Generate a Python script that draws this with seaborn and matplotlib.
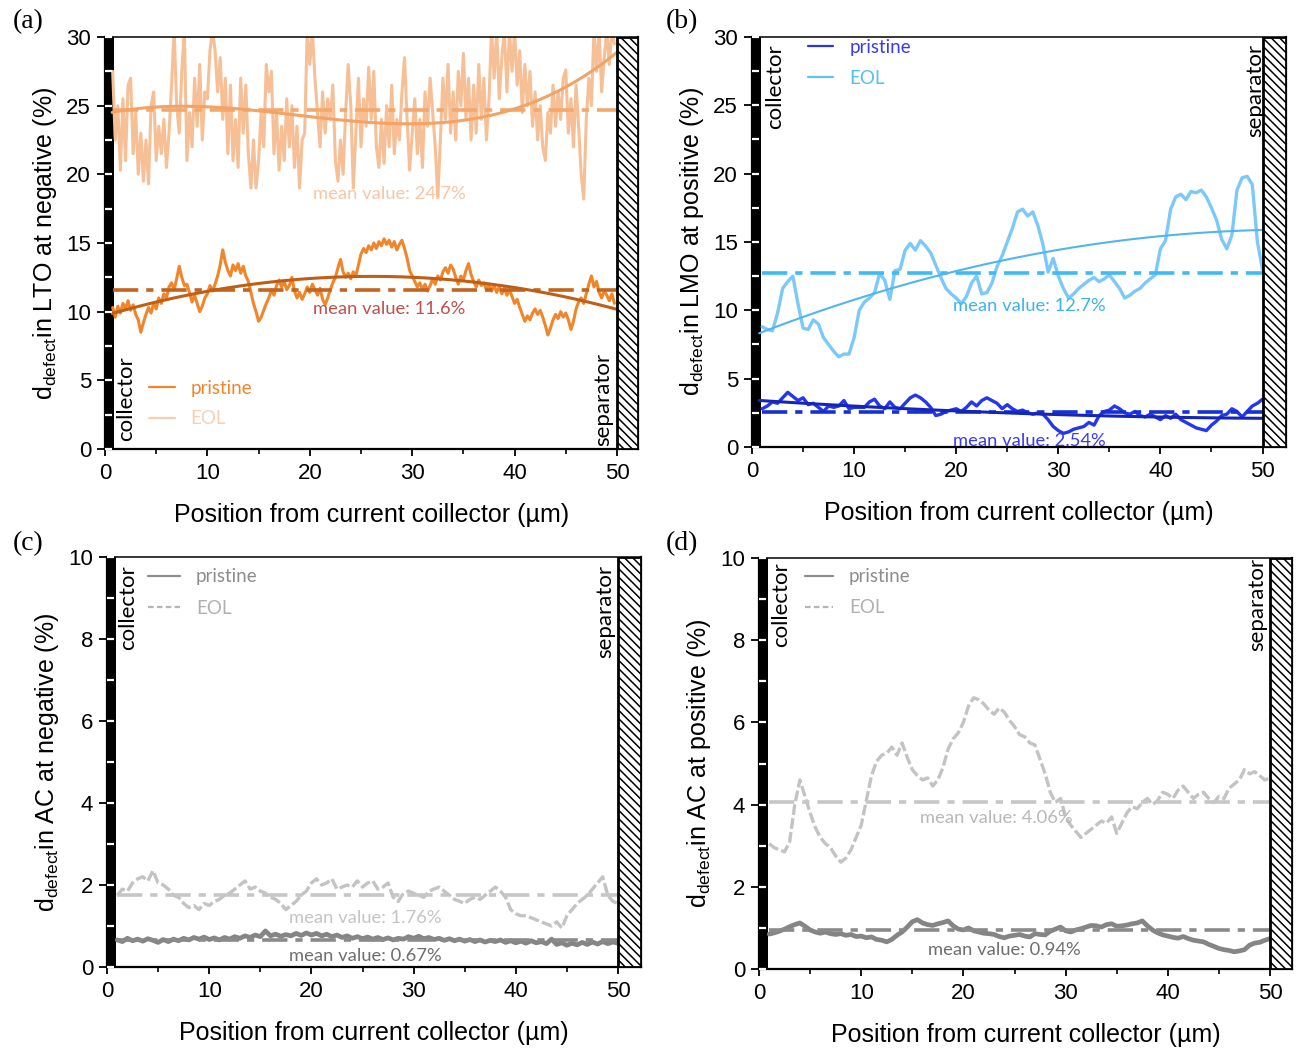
import numpy as np
import matplotlib
matplotlib.use("Agg")
import matplotlib.pyplot as plt
import seaborn as sns
from matplotlib.patches import Rectangle
from matplotlib.lines import Line2D
from matplotlib.ticker import MultipleLocator

sns.set_theme(style="ticks")
plt.rcParams["font.family"] = ["Liberation Sans", "DejaVu Sans"]
plt.rcParams["mathtext.fontset"] = "custom"
plt.rcParams["mathtext.rm"] = "Liberation Sans"
plt.rcParams["mathtext.it"] = "Liberation Sans:italic"
plt.rcParams["mathtext.bf"] = "Liberation Sans:bold"
plt.rcParams["hatch.linewidth"] = 1.1

# ---------------------------------------------------------------- data
# (a) LTO, negative electrode: profiles sampled every 0.25 um from 0.75 um
LTO_START, LTO_STEP = 0.75, 0.25
lto_eol = [
    27.5, 22.5, 25.0, 20.3, 25.5, 21.0, 26.5, 27.0, 21.5, 24.5, 20.0, 23.0,
    19.5, 22.5, 19.3, 25.0, 26.0, 21.0, 23.5, 21.5, 24.0, 20.5, 23.0, 26.5,
    30.5, 25.0, 23.0, 27.5, 30.5, 21.0, 24.5, 22.0, 27.0, 23.5, 28.0, 22.5,
    26.0, 25.5, 29.0, 30.5, 29.0, 26.0, 28.5, 24.0, 27.0, 21.5, 26.5, 21.0,
    24.0, 20.5, 27.0, 23.0, 26.5, 21.5, 19.0, 22.5, 19.0, 21.0, 24.5, 22.0,
    28.0, 26.0, 27.5, 21.5, 24.5, 20.3, 23.5, 21.0, 25.5, 22.0, 25.0, 20.5,
    23.5, 19.0, 22.5, 23.0, 30.5, 28.0, 30.5, 27.0, 24.5, 22.0, 26.0, 23.0,
    25.5, 24.0, 26.5, 21.0, 19.5, 22.5, 20.0, 24.5, 28.0, 25.0, 19.0, 23.0,
    27.0, 22.0, 25.5, 23.5, 27.8, 24.0, 27.5, 22.0, 20.5, 24.0, 20.8, 25.0,
    22.0, 26.5, 21.5, 24.0, 22.5, 26.0, 28.5, 24.0, 20.3, 23.0, 25.5, 21.5,
    24.0, 20.5, 26.0, 23.5, 27.0, 24.5, 22.0, 18.3, 22.5, 27.0, 24.0, 28.0,
    23.0, 26.0, 22.5, 27.5, 25.0, 28.8, 24.0, 27.0, 22.5, 26.5, 23.0, 28.0,
    24.0, 27.0, 22.5, 25.5, 30.5, 27.0, 30.5, 25.5, 28.5, 30.5, 26.0, 30.5,
    27.5, 30.5, 26.5, 29.0, 24.5, 28.0, 25.0, 27.5, 23.5, 26.0, 22.5, 25.0,
    22.0, 21.0, 24.5, 23.0, 26.5, 23.5, 26.0, 24.0, 27.0, 27.6, 23.0, 25.5,
    22.0, 26.5, 23.5, 20.0, 18.2, 24.0, 27.0, 25.0, 30.5, 27.5, 30.5, 26.0,
    28.5, 30.5, 28.0, 30.5, 29.5,
]
lto_pristine = [
    10.3, 9.6, 10.4, 9.9, 10.6, 10.2, 10.8, 10.1, 10.5, 9.8, 9.4, 8.5,
    9.2, 9.8, 10.3, 9.9, 10.6, 10.2, 11.0, 10.6, 11.3, 11.0, 11.8, 12.1,
    11.6, 12.4, 13.3, 12.5, 11.9, 12.0, 11.4, 10.7, 11.2, 10.6, 10.0, 10.4,
    11.0, 11.3, 11.9, 11.5, 12.0, 12.6, 13.4, 14.5, 13.6, 13.0, 12.6, 13.4,
    13.0, 13.5, 12.8, 13.3, 12.6, 12.2, 11.4, 10.6, 10.0, 9.3, 9.6, 10.1,
    10.6, 11.0, 11.6, 11.2, 11.9, 12.3, 11.8, 12.2, 11.6, 11.9, 12.5, 11.5,
    11.0, 11.4, 10.9, 11.3, 11.8, 11.4, 12.0, 11.6, 11.2, 11.7, 10.9, 10.5,
    11.0, 11.6, 12.1, 12.5, 13.2, 13.8, 12.9, 12.5, 12.8, 12.4, 12.9, 12.6,
    13.4, 14.2, 14.6, 14.3, 14.8, 14.5, 15.0, 14.6, 15.1, 14.8, 15.3, 14.9,
    15.2, 14.7, 15.1, 14.5, 14.9, 15.2, 14.6, 13.9, 13.0, 12.6, 12.2, 11.8,
    12.1, 11.6, 12.0, 11.5, 11.9, 12.4, 12.0, 12.6, 12.3, 12.9, 13.2, 12.8,
    13.4, 13.1, 12.5, 12.0, 12.6, 12.3, 13.0, 13.5, 12.7, 12.2, 11.8, 12.3,
    11.9, 12.1, 11.6, 12.0, 11.5, 11.9, 11.4, 11.8, 11.3, 11.7, 11.2, 11.6,
    11.1, 10.6, 10.9, 10.3, 9.8, 9.3, 9.7, 9.4, 9.9, 10.2, 9.8, 10.1,
    9.6, 9.0, 8.3, 8.8, 9.4, 9.8, 9.5, 10.0, 9.6, 9.9, 9.4, 8.7,
    9.3, 10.2, 10.7, 11.0, 10.6, 11.3, 12.0, 12.6, 11.8, 12.2, 11.4, 11.0,
    11.5, 11.2, 10.8, 11.3, 10.6,
]
lto_fit_eol_x = [0.7, 6, 12.5, 20, 25, 30, 35, 40, 45, 50]
lto_fit_eol_y = [24.5, 24.9, 24.9, 24.2, 23.8, 23.6, 23.9, 24.8, 26.5, 28.8]
lto_fit_pristine_x = [0.7, 5, 10, 15, 20, 25, 30, 35, 40, 45, 50]
lto_fit_pristine_y = [9.5, 10.8, 11.7, 12.3, 12.6, 12.6, 12.3, 12.0, 11.5, 11.0, 10.5]
lto_mean_eol, lto_mean_pristine = 24.7, 11.6

# (b), (c), (d): profiles sampled every 0.5 um from 1.0 um
GRID_START, GRID_STEP = 1.0, 0.5
lmo_eol = [
    8.8, 8.6, 8.5, 9.8, 11.6, 12.1, 12.5, 10.5, 8.7, 8.6, 9.3, 9.0,
    8.0, 7.5, 7.0, 6.6, 6.8, 6.8, 8.0, 10.0, 10.6, 10.9, 11.3, 12.7,
    12.2, 10.8, 12.9, 13.0, 14.4, 14.9, 14.4, 15.1, 14.7, 14.2, 13.3, 12.4,
    11.6, 11.2, 10.9, 10.5, 11.0, 12.0, 12.5, 11.2, 11.3, 12.0, 13.2, 14.0,
    15.0, 16.0, 17.2, 17.4, 16.9, 17.2, 16.2, 14.8, 12.8, 13.8, 12.5, 11.6,
    10.9, 11.2, 11.6, 11.9, 12.2, 12.4, 12.1, 12.3, 12.6, 12.1, 11.6, 10.9,
    11.1, 11.4, 11.6, 12.0, 12.3, 12.6, 14.5, 15.1, 17.4, 18.3, 18.5, 18.1,
    18.7, 18.6, 18.8, 18.3, 17.5, 16.6, 15.2, 14.5, 15.5, 18.8, 19.7, 19.8,
    19.2, 15.0, 13.0,
]
lmo_pristine = [
    2.8, 3.0, 3.3, 3.2, 3.6, 4.0, 3.7, 3.4, 3.6, 3.1, 3.2, 2.9,
    2.6, 3.0, 2.9, 3.0, 3.4, 2.8, 2.9, 2.9, 2.9, 3.3, 3.5, 3.0,
    2.8, 3.3, 2.9, 2.8, 3.2, 3.6, 3.8, 3.6, 3.3, 2.9, 2.3, 2.4,
    2.6, 2.7, 2.8, 2.6, 2.9, 3.3, 3.0, 3.4, 3.6, 3.4, 3.2, 2.8,
    3.1, 2.8, 2.6, 2.7, 2.5, 2.4, 2.5, 2.4, 2.0, 1.5, 1.2, 1.0,
    1.1, 1.3, 1.4, 1.5, 1.8, 1.6, 2.3, 2.6, 2.7, 3.0, 2.8, 2.5,
    2.4, 2.6, 2.3, 2.2, 2.4, 2.2, 2.0, 2.3, 2.1, 2.4, 2.0, 1.8,
    1.6, 1.4, 1.3, 1.2, 1.6, 1.9, 2.3, 2.4, 2.8, 2.6, 2.2, 2.6,
    3.0, 3.2, 3.5,
]
lmo_fit_eol_x = [0.7, 10, 20, 30, 40, 50]
lmo_fit_eol_y = [8.3, 10.8, 12.9, 14.4, 15.4, 15.9]
lmo_fit_pristine_x = [0.7, 10, 20, 30, 40, 50]
lmo_fit_pristine_y = [3.4, 3.0, 2.65, 2.35, 2.2, 2.1]
lmo_mean_eol, lmo_mean_pristine = 12.7, 2.54

ac_neg_eol = [
    1.75, 1.9, 1.85, 2.05, 2.15, 2.2, 2.1, 2.35, 2.05, 2.0, 1.9, 1.75,
    1.7, 1.55, 1.45, 1.5, 1.4, 1.55, 1.5, 1.6, 1.65, 1.75, 1.8, 1.9,
    2.0, 2.1, 1.9, 1.95, 1.85, 1.8, 1.7, 1.65, 1.55, 1.4, 1.5, 1.6,
    1.75, 1.85, 2.05, 2.15, 2.0, 2.05, 2.15, 1.9, 1.95, 2.0, 1.95, 2.1,
    1.95, 2.05, 2.1, 1.9, 1.95, 2.05, 1.7, 1.6, 1.8, 1.85, 1.8, 1.75,
    1.7, 1.85, 1.9, 1.95, 1.85, 1.75, 1.65, 1.6, 1.55, 1.65, 1.7, 1.65,
    1.75, 1.85, 1.95, 1.85, 1.7, 1.4, 1.3, 1.25, 1.25, 1.2, 1.15, 1.1,
    1.05, 1.0, 1.1, 0.95, 1.25, 1.4, 1.55, 1.65, 1.75, 1.9, 2.05, 2.2,
    1.75, 1.6, 1.55,
]
ac_neg_pristine = [
    0.66, 0.62, 0.70, 0.64, 0.68, 0.63, 0.69, 0.65, 0.60, 0.67, 0.62, 0.68,
    0.64, 0.70, 0.66, 0.72, 0.68, 0.73, 0.67, 0.71, 0.66, 0.72, 0.68, 0.74,
    0.70, 0.76, 0.72, 0.78, 0.74, 0.88, 0.76, 0.80, 0.75, 0.79, 0.76, 0.82,
    0.77, 0.83, 0.78, 0.82, 0.76, 0.80, 0.74, 0.78, 0.72, 0.76, 0.70, 0.74,
    0.69, 0.73, 0.68, 0.72, 0.67, 0.71, 0.66, 0.70, 0.68, 0.74, 0.70, 0.75,
    0.69, 0.72, 0.67, 0.70, 0.65, 0.69, 0.64, 0.68, 0.63, 0.67, 0.62, 0.66,
    0.61, 0.65, 0.62, 0.66, 0.60, 0.64, 0.59, 0.63, 0.58, 0.64, 0.59, 0.62,
    0.57, 0.68, 0.55, 0.59, 0.53, 0.58, 0.54, 0.60, 0.55, 0.61, 0.56, 0.62,
    0.57, 0.61, 0.58,
]
ac_neg_mean_eol, ac_neg_mean_pristine = 1.76, 0.67

ac_pos_eol = [
    3.05, 2.95, 2.9, 2.85, 3.1, 4.0, 4.6, 4.2, 3.8, 3.45, 3.2, 3.05,
    2.95, 2.75, 2.6, 2.7, 2.9, 3.2, 3.5, 4.1, 4.7, 5.05, 5.2, 5.25,
    5.4, 5.2, 5.5, 5.15, 4.85, 4.7, 4.6, 4.65, 4.45, 4.6, 4.9, 5.35,
    5.6, 5.75, 6.0, 6.4, 6.6, 6.55, 6.45, 6.3, 6.2, 6.35, 6.25, 6.05,
    5.9, 5.7, 5.65, 5.5, 5.45, 5.1, 4.75, 4.3, 4.05, 4.15, 3.7, 3.5,
    3.35, 3.2, 3.3, 3.4, 3.5, 3.6, 3.55, 3.7, 3.3, 3.55, 3.8, 3.95,
    3.9, 4.05, 4.15, 4.0, 4.1, 4.3, 4.25, 4.15, 4.35, 4.45, 4.3, 4.15,
    4.25, 4.3, 4.15, 4.05, 4.2, 4.15, 4.4, 4.5, 4.6, 4.85, 4.75, 4.8,
    4.7, 4.6, 4.65,
]
ac_pos_pristine = [
    0.85, 0.88, 0.92, 0.97, 1.03, 1.08, 1.12, 1.04, 0.95, 0.90, 0.87, 0.90,
    0.86, 0.84, 0.86, 0.82, 0.84, 0.79, 0.80, 0.76, 0.78, 0.72, 0.70, 0.66,
    0.72, 0.82, 0.90, 1.02, 1.15, 1.20, 1.12, 1.08, 1.06, 1.10, 1.13, 1.17,
    1.05, 0.97, 0.95, 1.00, 0.93, 0.90, 0.87, 0.86, 0.84, 0.79, 0.76, 0.80,
    0.82, 0.84, 0.80, 0.78, 0.86, 0.84, 0.83, 0.92, 0.97, 1.02, 0.93, 0.90,
    0.95, 0.98, 1.02, 1.06, 1.05, 1.02, 1.08, 1.10, 1.04, 1.05, 1.07, 1.10,
    1.12, 1.17, 1.05, 0.95, 0.88, 0.83, 0.80, 0.77, 0.75, 0.79, 0.74, 0.70,
    0.68, 0.66, 0.60, 0.55, 0.50, 0.47, 0.45, 0.42, 0.44, 0.47, 0.58, 0.63,
    0.65, 0.70, 0.74,
]
ac_pos_mean_eol, ac_pos_mean_pristine = 4.06, 0.94

LEGEND_LABELS = ["pristine", "EOL"]


def positions(values, start, step):
    return start + step * np.arange(len(values))


# ---------------------------------------------------------------- styling
W, H = 1302, 1052
fig = plt.figure(figsize=(W / 100, H / 100), dpi=100)


def add_axes(left, top, right, bottom):
    return fig.add_axes([left / W, 1 - bottom / H, (right - left) / W, (bottom - top) / H])


ax_a = add_axes(105, 37, 638, 449)
ax_b = add_axes(752, 37, 1286, 447)
ax_c = add_axes(107, 557, 641, 967)
ax_d = add_axes(759, 558, 1292, 969)

LABEL_FONT = "Lato"
DASHDOT = (0, (7, 2.2, 2, 2.2))


def frame(ax, xmax, ymax, ymajor, yminor, ylabel, xlabel):
    ax.set_xlim(0, xmax)
    ax.set_ylim(0, ymax)
    ax.set_axisbelow(False)
    # current collector and separator
    ax.axvspan(0, 0.85, color="black", lw=0, zorder=2)
    ax.add_patch(Rectangle((50, 0), xmax - 50, ymax, facecolor="white",
                           edgecolor="black", hatch="\\\\\\\\", lw=2.0, zorder=3))
    ax.xaxis.set_major_locator(MultipleLocator(10))
    ax.xaxis.set_minor_locator(MultipleLocator(5))
    ax.yaxis.set_major_locator(MultipleLocator(ymajor))
    ax.yaxis.set_minor_locator(MultipleLocator(yminor))
    ax.yaxis.remove_overlapping_locs = False
    ax.tick_params(axis="x", which="major", direction="out", length=5, width=1.3,
                   labelsize=16, pad=5, color="black", labelcolor="black")
    ax.tick_params(axis="x", which="minor", direction="out", length=3.5, width=1.2,
                   color="black")
    ax.tick_params(axis="y", which="major", direction="out", length=6, width=1.3,
                   labelsize=16, pad=4, color="black", labelcolor="black")
    ax.tick_params(axis="y", which="minor", direction="in", length=5, width=1.6,
                   color="white")
    for side in ["left", "right", "bottom"]:
        ax.spines[side].set_linewidth(1.6)
        ax.spines[side].set_color("black")
    ax.spines["top"].set_linewidth(1.1)
    ax.spines["top"].set_color("black")
    ax.set_ylabel(ylabel, fontsize=18, labelpad=5, color="black")
    ax.set_xlabel(xlabel, fontsize=18, labelpad=14, color="black")
    ax.grid(False)
    ax.set_facecolor("white")


def profile(ax, x, y, color, lw, ls="-"):
    sns.lineplot(x=x, y=y, ax=ax, color=color, lw=lw, linestyle=ls, zorder=2.1,
                 estimator=None, sort=True)


def fit(ax, fx, fy, order, color, lw):
    sns.regplot(x=np.asarray(fx), y=np.asarray(fy), order=order, scatter=False, ci=None,
                truncate=True, ax=ax, color=color, line_kws=dict(lw=lw, zorder=2.3))


def mean_line(ax, x, value, color, lw=2.6):
    ax.plot([x.min(), 50], [value, value], color=color, lw=lw, linestyle=DASHDOT, zorder=2.2)


def note(ax, x, y, text, color, size=13.2):
    ax.text(x, y, text, color=color, fontsize=size, family=LABEL_FONT, ha="left",
            va="center", zorder=4)


def side_labels(ax, xc, yc, xs, ys, va):
    ax.text(xc, yc, "collector", rotation=90, fontsize=16, family=LABEL_FONT,
            ha="center", va=va, color="black", zorder=4)
    ax.text(xs, ys, "separator", rotation=90, fontsize=16, family=LABEL_FONT,
            ha="center", va=va, color="black", zorder=4)


def legend(ax, colors, styles, textcolors, anchor, handlelength, spacing):
    handles = [Line2D([], [], color=c, lw=1.6, linestyle=s) for c, s in zip(colors, styles)]
    ax.legend(handles, LEGEND_LABELS, loc="upper left", bbox_to_anchor=anchor,
              frameon=False, borderpad=0, borderaxespad=0, handlelength=handlelength,
              handletextpad=0.85, labelspacing=spacing, labelcolor=textcolors,
              prop=dict(family=LABEL_FONT, size=13.5))


XLABEL = "Position from current collector (\u00b5m)"

# ---------------------------------------------------------------- (a)
xa_eol = positions(lto_eol, LTO_START, LTO_STEP)
xa_pr = positions(lto_pristine, LTO_START, LTO_STEP)
frame(ax_a, 52.05, 30, 5, 2.5, r"d$_{\rm defect}$in LTO at negative (%)",
      "Position from current coillector (\u00b5m)")
profile(ax_a, xa_eol, np.asarray(lto_eol), "#F7BF95", 2.2)
fit(ax_a, lto_fit_eol_x, lto_fit_eol_y, 3, "#F3A366", 2.2)
mean_line(ax_a, xa_eol, lto_mean_eol, "#F5A86C")
profile(ax_a, xa_pr, np.asarray(lto_pristine), "#F0852A", 2.2)
fit(ax_a, lto_fit_pristine_x, lto_fit_pristine_y, 2, "#C05E16", 2.2)
mean_line(ax_a, xa_pr, lto_mean_pristine, "#C3651C")
note(ax_a, 20.3, 18.6, f"mean value: {lto_mean_eol}%", "#F8C6A2")
note(ax_a, 20.3, 10.2, f"mean value: {lto_mean_pristine}%", "#C0504D")
side_labels(ax_a, 2.1, 0.55, 48.7, 0.25, "bottom")
legend(ax_a, ["#F0852A", "#F9CFB2"], ["-", "-"], ["#F0852A", "#F9CFB2"],
       (0.083, 0.168), 1.35, 0.72)
ax_a.set_ylim(0, 30)

# ---------------------------------------------------------------- (b)
xb_eol = positions(lmo_eol, GRID_START, GRID_STEP)
xb_pr = positions(lmo_pristine, GRID_START, GRID_STEP)
frame(ax_b, 52.3, 30, 5, 2.5, r"d$_{\rm defect}$in LMO at positive (%)", XLABEL)
profile(ax_b, xb_eol, np.asarray(lmo_eol), "#7CC9F9", 2.4)
fit(ax_b, lmo_fit_eol_x, lmo_fit_eol_y, 2, "#52B5EF", 1.5)
mean_line(ax_b, xb_eol, lmo_mean_eol, "#3EBBF7")
profile(ax_b, xb_pr, np.asarray(lmo_pristine), "#2436EE", 2.4)
fit(ax_b, lmo_fit_pristine_x, lmo_fit_pristine_y, 2, "#1426B8", 2.2)
mean_line(ax_b, xb_pr, lmo_mean_pristine, "#1730D6")
note(ax_b, 19.7, 10.3, f"mean value: {lmo_mean_eol}%", "#3FB2EE")
note(ax_b, 19.7, 0.45, f"mean value: {lmo_mean_pristine}%", "#3A3AF5")
side_labels(ax_b, 2.25, 29.5, 49.3, 29.5, "top")
legend(ax_b, ["#2E35E8", "#5EC0F5"], ["-", "-"], ["#3A3AF0", "#56BEF5"],
       (0.105, 0.995), 1.35, 0.72)

# ---------------------------------------------------------------- (c)
xc_eol = positions(ac_neg_eol, GRID_START, GRID_STEP)
xc_pr = positions(ac_neg_pristine, GRID_START, GRID_STEP)
frame(ax_c, 52.25, 10, 2, 1, r"d$_{\rm defect}$in AC at negative (%)", XLABEL)
profile(ax_c, xc_eol, np.asarray(ac_neg_eol), "#C3C3C3", 2.4, (0, (3.2, 1.0)))
mean_line(ax_c, xc_eol, ac_neg_mean_eol, "#C6C6C6")
profile(ax_c, xc_pr, np.asarray(ac_neg_pristine), "#858585", 3.4)
mean_line(ax_c, xc_pr, ac_neg_mean_pristine, "#8A8A8A")
note(ax_c, 17.8, 1.2, f"mean value: {ac_neg_mean_eol}%", "#C4C4C4")
note(ax_c, 17.8, 0.27, f"mean value: {ac_neg_mean_pristine}%", "#6E6E6E")
side_labels(ax_c, 2.05, 9.8, 48.8, 9.8, "top")
legend(ax_c, ["#8C8C8C", "#B5B5B5"], ["-", (0, (2.5, 1.5))], ["#8C8C8C", "#B0B0B0"],
       (0.077, 0.972), 1.7, 0.75)

# ---------------------------------------------------------------- (d)
xd_eol = positions(ac_pos_eol, GRID_START, GRID_STEP)
xd_pr = positions(ac_pos_pristine, GRID_START, GRID_STEP)
frame(ax_d, 52.15, 10, 2, 1, r"d$_{\rm defect}$in AC at positive (%)", XLABEL)
profile(ax_d, xd_eol, np.asarray(ac_pos_eol), "#C3C3C3", 2.4, (0, (3.2, 1.0)))
mean_line(ax_d, xd_eol, ac_pos_mean_eol, "#C6C6C6")
profile(ax_d, xd_pr, np.asarray(ac_pos_pristine), "#858585", 3.4)
mean_line(ax_d, xd_pr, ac_pos_mean_pristine, "#8A8A8A")
note(ax_d, 15.75, 3.67, f"mean value: {ac_pos_mean_eol}%", "#B8B8B8")
note(ax_d, 16.5, 0.46, f"mean value: {ac_pos_mean_pristine}%", "#6E6E6E")
side_labels(ax_d, 2.15, 9.9, 48.8, 10.0, "top")
legend(ax_d, ["#8C8C8C", "#B5B5B5"], ["-", (0, (2.5, 1.5))], ["#8C8C8C", "#B0B0B0"],
       (0.086, 0.975), 1.5, 0.75)

# panel letters
for letter, (px, py) in zip("abcd", [(28, 22), (682, 22), (28, 544), (682, 544)]):
    fig.text(px / W, 1 - py / H, f"({letter})", family="Liberation Serif", fontsize=20,
             ha="center", va="center", color="black")

fig.savefig("out.png", dpi=100, facecolor="white")
